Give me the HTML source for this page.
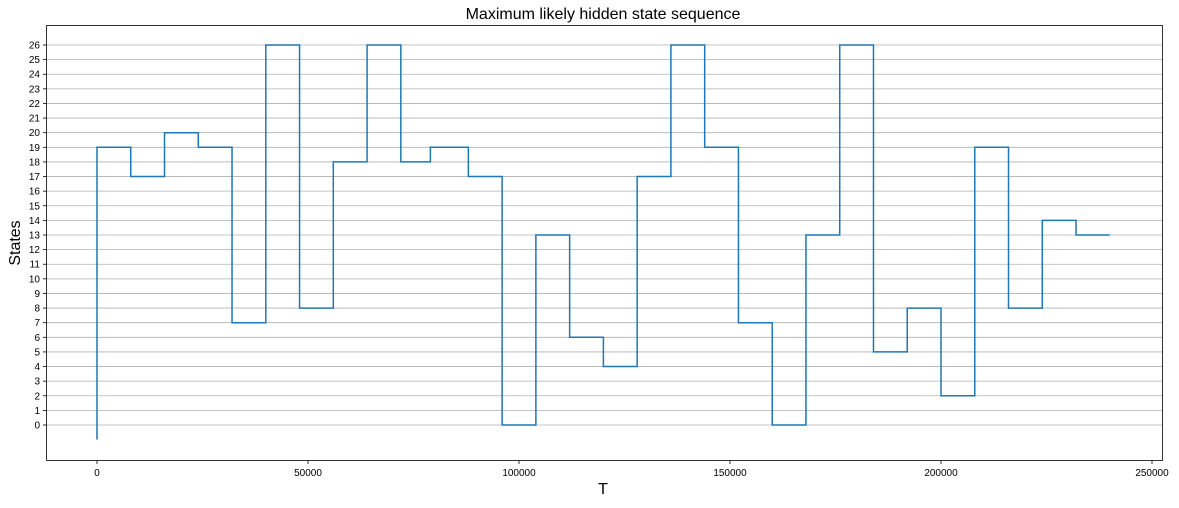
<!DOCTYPE html>
<html><head><meta charset="utf-8"><style>
body{margin:0;background:#fff;font-family:"Liberation Sans",sans-serif}
</style></head><body>
<svg id="chart" width="1179" height="503" xmlns="http://www.w3.org/2000/svg">
<text x="603" y="19" font-size="16" text-anchor="middle" fill="#000">Maximum likely hidden state sequence</text>
<text x="603" y="494" font-size="16" text-anchor="middle" fill="#000">T</text>
<text transform="translate(20,243) rotate(-90)" font-size="16" text-anchor="middle" fill="#000">States</text>
<g id="grid"></g><g id="ticks"></g><g id="series"></g>
<rect x="46.5" y="25.5" width="1116" height="435" fill="none" stroke="#000" stroke-width="0.8"/>
</svg>
<script>
const breakTimes=[0,8000,16000,24000,32000,40000,48000,56000,64000,72000,79000,88000,96000,104000,112000,120000,128000,136000,144000,152000,160000,168000,176000,184000,192000,200000,208000,216000,224000,232000,240000];
const stateValues=[19,17,20,19,7,26,8,18,26,18,19,17,0,13,6,4,17,26,19,7,0,13,26,5,8,2,19,8,14,13];
const startValue=-1;
const xTicks=[0,50000,100000,150000,200000,250000];
const yTicks=[0,1,2,3,4,5,6,7,8,9,10,11,12,13,14,15,16,17,18,19,20,21,22,23,24,25,26];
const NS="http://www.w3.org/2000/svg";
const xs=v=>97+v*(1152-97)/250000;
const ys=v=>425-v*(380/26);
const grid=document.getElementById('grid'),ticks=document.getElementById('ticks'),series=document.getElementById('series');
function mk(t,a){const e=document.createElementNS(NS,t);for(const k in a)e.setAttribute(k,a[k]);return e;}
yTicks.forEach(v=>{
 const y=ys(v);
 const g=mk('line',{x1:46.5,x2:1162.5,y1:y,y2:y,stroke:'#b0b0b0','stroke-width':0.8});
 
 
 grid.appendChild(g);
 const t=mk('line',{x1:43,x2:46.5,y1:y,y2:y,stroke:'#000','stroke-width':0.8});
 
 
 ticks.appendChild(t);
 const l=mk('text',{x:40,y:y+3.5,'font-size':10,'text-anchor':'end',fill:'#000'});
 l.textContent=v;
 
 
 ticks.appendChild(l);
});
xTicks.forEach(v=>{
 const x=xs(v);
 const t=mk('line',{x1:x,x2:x,y1:460.5,y2:464,stroke:'#000','stroke-width':0.8});
 
 
 ticks.appendChild(t);
 const l=mk('text',{x:x,y:476,'font-size':10,'text-anchor':'middle',fill:'#000'});
 l.textContent=v;
 
 
 ticks.appendChild(l);
});
let pts=[[xs(breakTimes[0]),ys(startValue)]];
stateValues.forEach((v,i)=>{pts.push([xs(breakTimes[i]),ys(v)]);pts.push([xs(breakTimes[i+1]),ys(v)]);});
const p=mk('polyline',{points:pts.map(q=>q.join(',')).join(' '),fill:'none',stroke:'#1f77b4','stroke-width':1.5});


series.appendChild(p);
</script>
</body></html>
